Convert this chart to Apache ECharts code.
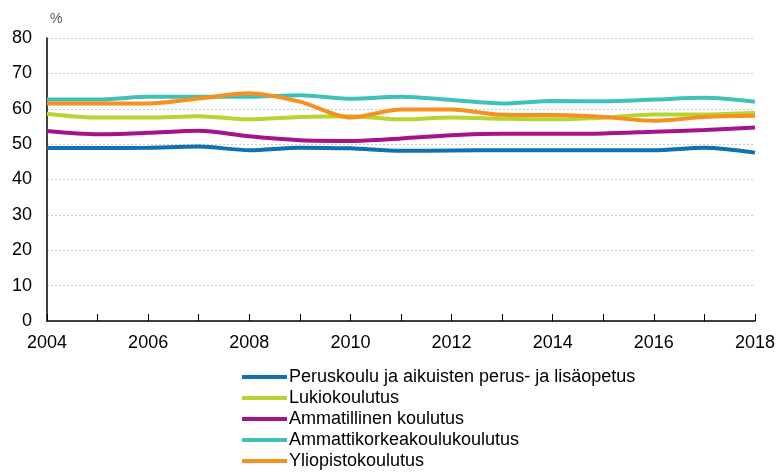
<!DOCTYPE html>
<html>
<head>
<meta charset="utf-8">
<script src="https://cdn.jsdelivr.net/npm/echarts@6/dist/echarts.min.js"></script>
<style>
  html, body { margin: 0; padding: 0; background: #fff; }
  #main { width: 779px; height: 473px; }
</style>
</head>
<body>
<div id="main"></div>
<script>
var years = ['2004', '2005', '2006', '2007', '2008', '2009', '2010', '2011', '2012', '2013', '2014', '2015', '2016', '2017', '2018'];
var yTicks = [0, 10, 20, 30, 40, 50, 60, 70, 80];

var peruskoulu = [48.9, 48.9, 49.0, 49.3, 48.3, 49.0, 48.8, 48.1, 48.2, 48.3, 48.3, 48.3, 48.3, 49.0, 47.6];
var lukio = [58.6, 57.5, 57.5, 57.9, 57.0, 57.7, 57.9, 57.0, 57.5, 57.2, 57.0, 57.5, 58.4, 58.4, 58.8];
var ammatillinen = [53.7, 52.8, 53.2, 53.8, 52.2, 51.1, 50.9, 51.6, 52.5, 52.9, 52.9, 53.0, 53.5, 54.0, 54.7];
var amk = [62.6, 62.6, 63.4, 63.4, 63.4, 63.8, 62.8, 63.4, 62.5, 61.5, 62.2, 62.1, 62.6, 63.1, 62.0];
var yliopisto = [61.5, 61.5, 61.5, 62.9, 64.4, 62.0, 57.5, 59.8, 59.8, 58.3, 58.2, 57.7, 56.6, 57.7, 58.0];

var names = [
  'Peruskoulu ja aikuisten perus- ja lisäopetus',
  'Lukiokoulutus',
  'Ammatillinen koulutus',
  'Ammattikorkeakoulukoulutus',
  'Yliopistokoulutus'
];
var colors = ['#0f70b5', '#b8d432', '#a4128c', '#3ec2b8', '#f8901f'];
var values = [peruskoulu, lukio, ammatillinen, amk, yliopisto];

var dom = document.getElementById('main');
var myChart = echarts.init(dom);
var option = {
  animation: false,
  color: colors,
  textStyle: { fontFamily: 'Liberation Sans, Arial, sans-serif' },
  grid: {
    left: 47,
    right: 24,
    top: 38,
    bottom: 152
  },
  legend: {
    orient: 'vertical',
    left: 242,
    top: 368,
    padding: 0,
    itemWidth: 45,
    itemHeight: 4,
    itemGap: 3,
    icon: 'rect',
    textStyle: { fontSize: 18, color: '#000', lineHeight: 18, padding: [0, 0, 0, -3] },
    data: names
  },
  xAxis: {
    type: 'category',
    boundaryGap: false,
    data: years,
    axisLine: { lineStyle: { color: '#000', width: 1.5 } },
    axisTick: { show: true, inside: true, length: 7, interval: 0, lineStyle: { color: '#000' } },
    axisLabel: { interval: 1, color: '#000', fontSize: 18, margin: 13 },
    splitLine: { show: false }
  },
  yAxis: {
    type: 'value',
    min: yTicks[0],
    max: yTicks[yTicks.length - 1],
    interval: 10,
    name: '%',
    nameLocation: 'end',
    nameGap: 12,
    nameTextStyle: { color: '#555', fontSize: 14, align: 'left', padding: [0, 0, 0, 3] },
    axisLine: { show: true, lineStyle: { color: '#000', width: 1.5 } },
    axisTick: { show: false },
    axisLabel: { color: '#000', fontSize: 18, margin: 15 },
    splitLine: { lineStyle: { color: '#c8c8c8', type: [2, 2], width: 1 } }
  },
  series: names.map(function (n, i) {
    return {
      name: n,
      type: 'line',
      data: values[i],
      smooth: 0.3,
      symbol: 'none',
      lineStyle: { width: 4 }
    };
  })
};
if (option && typeof option === "object") {
  myChart.setOption(option, true);
}
</script>
</body>
</html>
